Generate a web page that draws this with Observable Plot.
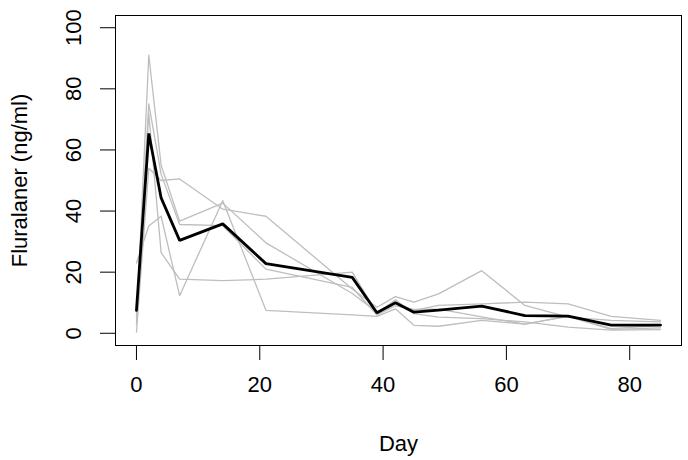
<!DOCTYPE html>
<html>
<head>
<meta charset="utf-8">
<script src="https://cdn.jsdelivr.net/npm/d3@7"></script>
<script src="https://cdn.jsdelivr.net/npm/@observablehq/plot@0.6"></script>
<style>
  html, body { margin: 0; padding: 0; background: #fff; }
  #chart { width: 688px; height: 460px; }
</style>
</head>
<body>
<div id="chart"></div>
<script>
// Sampling days
const days = [0, 2, 4, 7, 14, 21, 35, 39, 42, 45, 49, 56, 63, 70, 77, 85];

// Individual animals (grey lines), ng/ml
const animal1 = [3, 91, 55, 36.7, 42.6, 29.6, 13, 7, 10, 7.5, 9.1, 9.6, 10.2, 9.6, 5.5, 4.2];
const animal2 = [5, 75.1, 52, 35.6, 35.2, 21, 15, 6, 9, 7.8, 7.9, 5.4, 3, 5.6, 1.5, 2.6];
const animal3 = [6, 71.9, 26.4, 17.7, 17.2, 17.7, 20, 6.5, 11, 6.4, 5.3, 4.8, 3.7, 2.0, 1.0, 1.2];
const animal4 = [0.4, 54, 50, 50.5, 40.6, 38.3, 14.5, 8.5, 12, 10.2, 12.9, 20.5, 9.1, 5.3, 4.2, 3.7];
const animal5 = [23, 35.1, 38.3, 12.3, 43.4, 7.5, 6, 5.5, 8, 2.6, 2.3, 4.2, 3, 5.5, 1.3, 1.8];

// Mean curve (black line), ng/ml
const meanConc = [7.5, 65.4, 44.3, 30.4, 35.8, 22.8, 18.3, 6.7, 10, 6.9, 7.6, 8.9, 5.8, 5.6, 2.7, 2.7];

const xTicks = [0, 20, 40, 60, 80];
const yTicks = [0, 20, 40, 60, 80, 100];
const xTitle = "Day";
const yTitle = "Fluralaner (ng/ml)";

const animals = [animal1, animal2, animal3, animal4, animal5];
const greyRows = animals.flatMap((vals, i) =>
  vals.map((v, j) => ({animal: i + 1, day: days[j], conc: v})));
const meanRows = meanConc.map((v, j) => ({day: days[j], conc: v}));

const font = "'Liberation Sans', Arial, Helvetica, sans-serif";
const fs = 22;

const chart = Plot.plot({
  width: 688,
  height: 460,
  marginLeft: 115,
  marginRight: 7,
  marginTop: 15,
  marginBottom: 115,
  style: {fontFamily: font, fontSize: fs + "px", background: "#fff", color: "#000"},
  x: {domain: [-3.4, 88.4]},
  y: {domain: [-4, 104]},
  marks: [
    Plot.line(greyRows, {x: "day", y: "conc", z: "animal", stroke: "#BEBEBE", strokeWidth: 1.3}),
    Plot.line(meanRows, {x: "day", y: "conc", stroke: "#000", strokeWidth: 2.8, strokeLinejoin: "miter"}),
    Plot.frame({stroke: "#000", strokeWidth: 1}),
    Plot.axisX({ticks: xTicks, tickSize: 15, tickPadding: 16, fontSize: fs, label: null, stroke: "#000"}),
    Plot.axisY({ticks: yTicks, tickSize: 15, tickFormat: () => "", label: null, stroke: "#000"}),
    Plot.text(yTicks, {y: d => d, text: d => String(d), frameAnchor: "left", dx: -42, rotate: -90,
      fontSize: fs, lineAnchor: "middle", textAnchor: "middle", fill: "#000"}),
    Plot.text([yTitle], {text: d => d, frameAnchor: "left", dx: -96, rotate: -90,
      fontSize: fs, lineAnchor: "middle", textAnchor: "middle", fill: "#000"}),
    Plot.text([xTitle], {text: d => d, frameAnchor: "bottom", dy: 98,
      fontSize: fs, lineAnchor: "middle", textAnchor: "middle", fill: "#000"})
  ]
});
document.getElementById("chart").appendChild(chart);
</script>
</body>
</html>
